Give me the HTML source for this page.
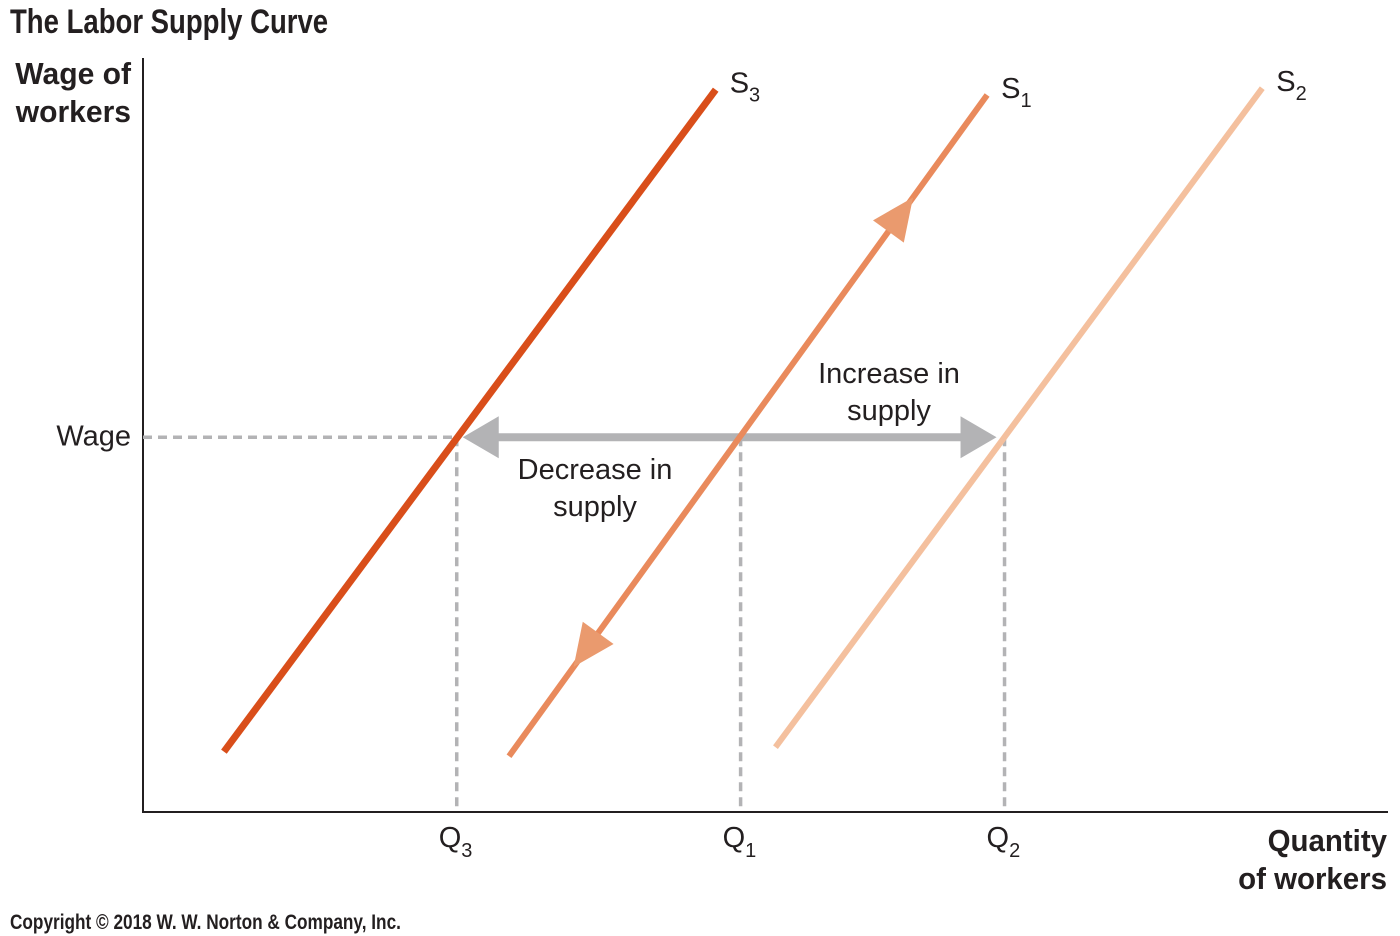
<!DOCTYPE html>
<html><head><meta charset="utf-8">
<style>
html,body{margin:0;padding:0;background:#fff;}
svg{display:block;}
text{font-family:"Liberation Sans",sans-serif;fill:#231f20;}
</style></head>
<body>
<svg id="chart" width="1400" height="936" viewBox="0 0 1400 936">
<text x="10" y="33" font-size="34" font-weight="bold" transform="translate(10,0) scale(0.81,1) translate(-10,0)">The Labor Supply Curve</text>
<text x="131" y="84" font-size="31" font-weight="bold" text-anchor="end" transform="translate(131,0) scale(0.97,1) translate(-131,0)"><tspan x="131">Wage of</tspan><tspan x="131" dy="38">workers</tspan></text>
<text x="1387" y="851" font-size="31" font-weight="bold" text-anchor="end" transform="translate(1387,0) scale(0.95,1) translate(-1387,0)"><tspan x="1387">Quantity</tspan><tspan x="1387" dy="38">of workers</tspan></text>
<text x="10" y="929" font-size="21" font-weight="bold" transform="translate(10,0) scale(0.82,1) translate(-10,0)">Copyright © 2018 W. W. Norton &amp; Company, Inc.</text>
<g id="plot"></g>
</svg>
<script>
const curveNames = ['S3','S1','S2'];
const curveX1 = [6.5, 29.4, 50.8];
const curveY1 = [8.0, 7.4, 8.6];
const curveX2 = [46.0, 67.8, 89.9];
const curveY2 = [95.8, 95.1, 96.0];
const curveColors = ['#d94e1a','#e98a5c','#f4c09e'];
const curveSubs = ['3','1','2'];
const wageLevel = [49.7];
const qValues = [25.2, 48.0, 69.2];
const qSubs = ['3','1','2'];

const NS='http://www.w3.org/2000/svg';
const g=document.getElementById('plot');
const xS=v=>143+v*12.45, yS=v=>812-v*7.54;
function mk(t,a){const e=document.createElementNS(NS,t);for(const k in a)e.setAttribute(k,a[k]);g.appendChild(e);return e;}

let ax=mk('line',{x1:143,y1:58,x2:143,y2:812,stroke:'#231f20','stroke-width':2});


ax=mk('line',{x1:142,y1:812,x2:1388,y2:812,stroke:'#231f20','stroke-width':2});



const wy=yS(wageLevel[0]);
let d=mk('line',{x1:143,y1:wy,x2:xS(qValues[0]),y2:wy,stroke:'#b3b3b5','stroke-width':3.5,'stroke-dasharray':'9,6'});


let t=mk('text',{x:131,y:wy+8,'font-size':29,'text-anchor':'end'});t.textContent='Wage';



qValues.forEach((q,i)=>{
  const x=xS(q);
  const l=mk('line',{x1:x,y1:wy,x2:x,y2:812,stroke:'#b3b3b5','stroke-width':3.5,'stroke-dasharray':'9,6'});
  
  
  const tx=mk('text',{x:x-18,y:847,'font-size':29});
  tx.innerHTML='Q<tspan font-size="20" dy="10">'+qSubs[i]+'</tspan>';
  
  
});

const ax1=xS(qValues[0])+6, ax2=xS(qValues[2])-8;
let ga=mk('line',{x1:ax1+30,y1:wy,x2:ax2-30,y2:wy,stroke:'#b3b3b5','stroke-width':8});



curveNames.forEach((n,i)=>{
  const x1=xS(curveX1[i]),y1=yS(curveY1[i]),x2=xS(curveX2[i]),y2=yS(curveY2[i]);
  const l=mk('line',{x1,y1,x2,y2,stroke:curveColors[i],'stroke-width':i==0?7:6});
  
  
  const tx=mk('text',{x:x2+14,y:y2+3,'font-size':29});
  tx.innerHTML='S<tspan font-size="20" dy="9">'+curveSubs[i]+'</tspan>';
  
  
});

function head(tx,ty,ux,uy,len,w,fill,name){
  const bx=tx-ux*len,by=ty-uy*len,px=-uy,py=ux;
  const p=mk('polygon',{points:`${tx},${ty} ${bx+px*w/2},${by+py*w/2} ${bx-px*w/2},${by-py*w/2}`,fill});
  
  
}
head(ax1,wy,-1,0,36,42,'#b3b3b5','shift-arrow-left-head');
head(ax2,wy,1,0,36,42,'#b3b3b5','shift-arrow-right-head');
{
  const x1=xS(curveX1[1]),y1=yS(curveY1[1]),x2=xS(curveX2[1]),y2=yS(curveY2[1]);
  const L=Math.hypot(x2-x1,y2-y1),ux=(x2-x1)/L,uy=(y2-y1)/L;
  const tu=0.845, td=0.135;
  head(x1+(x2-x1)*tu,y1+(y2-y1)*tu,ux,uy,42,38,'#ea9a6e','s1-up-arrowhead');
  head(x1+(x2-x1)*td,y1+(y2-y1)*td,-ux,-uy,42,38,'#ea9a6e','s1-down-arrowhead');
}
[['Increase in','supply',889,383,'increase-label'],['Decrease in','supply',595,479,'decrease-label']].forEach(a=>{
  const tx=mk('text',{x:a[2],y:a[3],'font-size':29,'text-anchor':'middle'});
  tx.innerHTML=`<tspan x="${a[2]}">${a[0]}</tspan><tspan x="${a[2]}" dy="37">${a[1]}</tspan>`;
  
  
});
</script>
</body></html>
